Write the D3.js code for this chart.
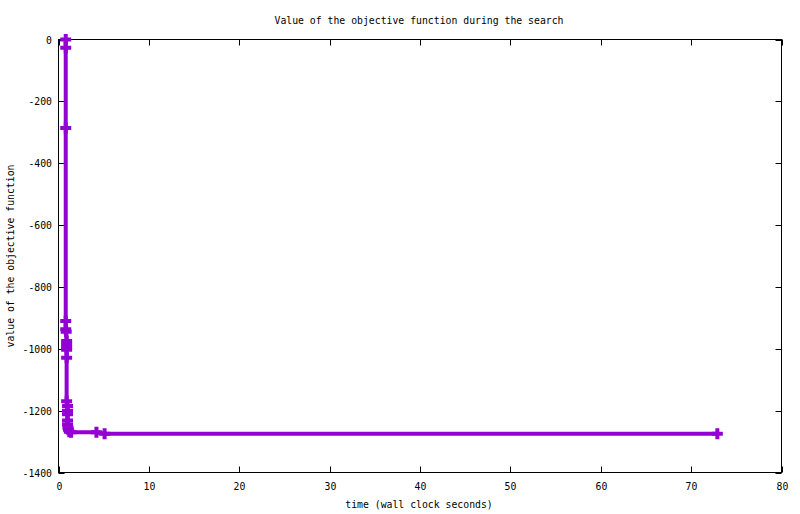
<!DOCTYPE html>
<html><head><meta charset="utf-8">
<script src="https://cdn.jsdelivr.net/npm/d3@7"></script>
<style>
body{margin:0;background:#fff;}
text{font-family:"DejaVu Sans Mono",monospace;font-size:9.8px;fill:#000;}
</style></head>
<body><svg id="c" width="800" height="514"></svg>
<script>
const times  = [0.8, 0.8, 0.8, 0.8, 0.8, 0.85, 0.9, 0.9, 0.9, 0.9, 0.9, 0.9, 1.0, 1.0, 1.0, 1.0, 1.0, 1.05, 1.1, 1.2, 1.4, 4.2, 5.1, 72.9];
const values = [0, -27, -286, -910, -937, -945, -975, -985, -995, -1003, -1029, -1170, -1185, -1200, -1212, -1232, -1245, -1255, -1262, -1268, -1270, -1270, -1275, -1275];
const xTicks = [0, 10, 20, 30, 40, 50, 60, 70, 80];
const yTicks = [0, -200, -400, -600, -800, -1000, -1200, -1400];
const title = "Value of the objective function during the search";
const xTitle = "time (wall clock seconds)";
const yTitle = "value of the objective function";

const svg = d3.select("#c");
const L = 58.5, R = 781.5, T = 39.5, B = 472.5;
const x = d3.scaleLinear().domain([0, 80]).range([L, R]);
const y = d3.scaleLinear().domain([-1400, 0]).range([B, T]);
const tl = 6;

const g = svg.append("g");
// ticks (mirrored, inward)
xTicks.forEach(t => {
  const xp = Math.round(x(t)) + 0.5;
  g.append("line").attr("x1", xp).attr("x2", xp).attr("y1", B).attr("y2", B - tl).attr("stroke", "#000");
  g.append("line").attr("x1", xp).attr("x2", xp).attr("y1", T).attr("y2", T + tl).attr("stroke", "#000");
  g.append("text").attr("x", xp).attr("y", 490).attr("text-anchor", "middle").text(t);
});
yTicks.forEach(t => {
  const yp = Math.round(y(t)) + 0.5;
  g.append("line").attr("x1", L).attr("x2", L + tl).attr("y1", yp).attr("y2", yp).attr("stroke", "#000");
  g.append("line").attr("x1", R).attr("x2", R - tl).attr("y1", yp).attr("y2", yp).attr("stroke", "#000");
  g.append("text").attr("x", 52).attr("y", yp + 3.5).attr("text-anchor", "end").text(t);
});
g.append("rect").attr("x", L).attr("y", T).attr("width", R - L).attr("height", B - T)
  .attr("fill", "none").attr("stroke", "#000");

// line
const pts = times.map((t, i) => [t, values[i]]);
svg.append("path").datum(pts)
  .attr("d", d3.line().x(d => x(d[0])).y(d => y(d[1])))
  .attr("fill", "none").attr("stroke", "#9400d3").attr("stroke-width", 4).attr("stroke-linejoin", "miter");
// markers
svg.append("g").selectAll("path").data(pts).join("path")
  .attr("d", d => { const cx = x(d[0]), cy = y(d[1]); return `M${cx-5.5},${cy}H${cx+5.5}M${cx},${cy-5.5}V${cy+5.5}`; })
  .attr("stroke", "#9400d3").attr("stroke-width", 4).attr("fill", "none");

svg.append("text").attr("x", 419).attr("y", 23.5).attr("text-anchor", "middle").text(title);
svg.append("text").attr("x", 419).attr("y", 508).attr("text-anchor", "middle").text(xTitle);
svg.append("text").attr("transform", "translate(14,256) rotate(-90)").attr("text-anchor", "middle").text(yTitle);
</script></body></html>
